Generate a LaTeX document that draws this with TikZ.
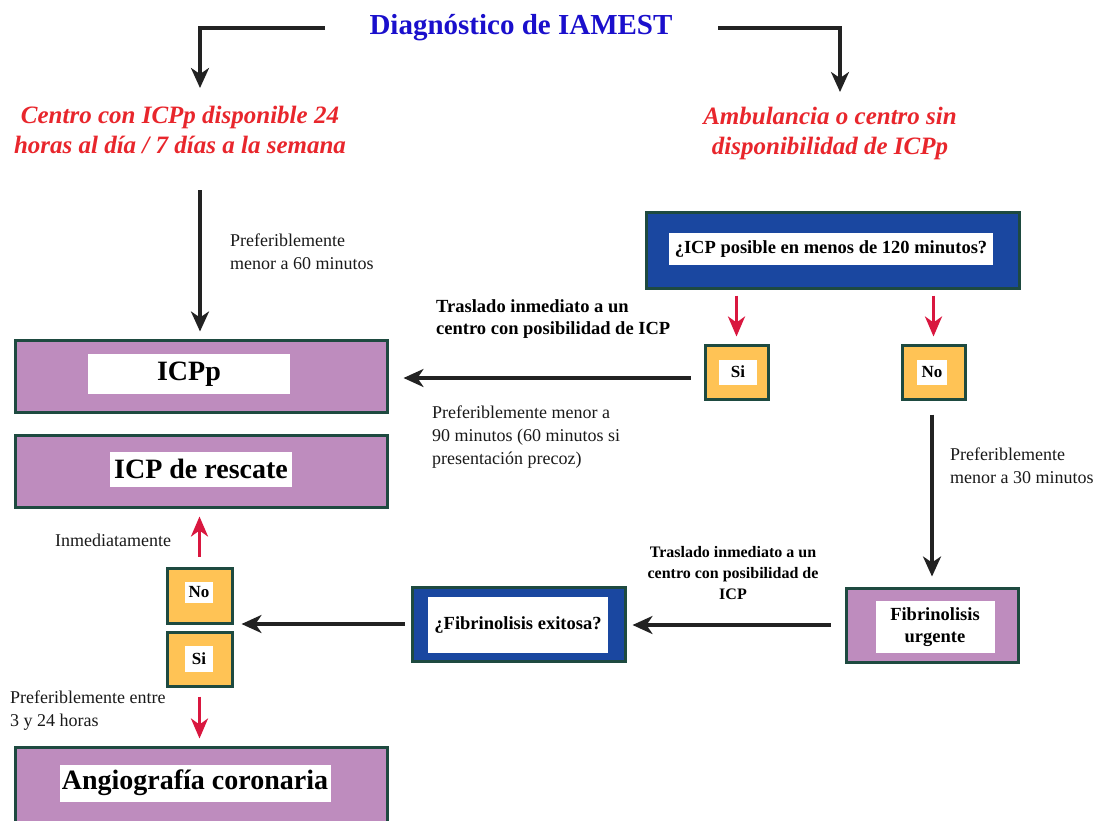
\documentclass[tikz,border=0pt]{standalone}
\usepackage{fontspec}
\setmainfont{Liberation Serif}
\usetikzlibrary{arrows.meta}
\definecolor{boxpurple}{RGB}{190,140,190}
\definecolor{boxblue}{RGB}{26,71,160}
\definecolor{boxorange}{RGB}{255,195,85}
\definecolor{boxborder}{RGB}{30,74,64}
\definecolor{titleblue}{RGB}{26,15,204}
\definecolor{redtext}{RGB}{232,38,44}
\definecolor{redarrow}{RGB}{217,23,63}
\definecolor{arrowblack}{RGB}{34,34,34}
\begin{document}
\begin{tikzpicture}[x=1pt,y=-1pt,
  frame/.style={draw=boxborder, line width=3pt, inner sep=0pt},
  purplebox/.style={frame, fill=boxpurple},
  bluebox/.style={frame, fill=boxblue},
  orangebox/.style={frame, fill=boxorange, minimum width=63pt, minimum height=54pt},
  whitelabel/.style={fill=white, inner sep=0pt, align=center, text=black},
  bigbold/.style={font=\bfseries\fontsize{28}{30}\selectfont},
  midbold/.style={font=\bfseries\fontsize{18.5}{22}\selectfont},
  smallbold/.style={font=\bfseries\fontsize{17}{20}\selectfont},
  note/.style={font=\fontsize{18}{23}\selectfont, align=left, inner sep=0pt, anchor=west, text=black!90},
  boldnote/.style={font=\bfseries\fontsize{18.5}{22}\selectfont, align=left, inner sep=0pt, anchor=west},
  redhead/.style={font=\bfseries\itshape\fontsize{25}{30}\selectfont, text=redtext, align=center, inner sep=0pt},
  arr/.style={draw=arrowblack, line width=3.2pt, -{Stealth[length=20pt,width=18pt,inset=6pt]}},
  redarr/.style={draw=redarrow, line width=3.2pt, -{Stealth[length=20pt,width=17pt,inset=6pt]}}
]
\useasboundingbox (0,0) rectangle (1107,820);

% title
\node[font=\bfseries\fontsize{29}{32}\selectfont, text=titleblue, inner sep=0pt] (title) at (521,28) {Diagnóstico de IAMEST};
\coordinate (tl) at (325,28);
\coordinate (tlend) at (200,88);
\coordinate (tr) at (718,28);
\coordinate (trend) at (840,92);
\draw[arr] (tl) -| (tlend);
\draw[arr] (tr) -| (trend);

% red headings
\node[redhead] (left) at (180,130) {Centro con ICPp disponible 24\\horas al día / 7 días a la semana};
\node[redhead] (right) at (830,133) {Ambulancia o centro sin\\disponibilidad de ICPp};

% left column boxes
\node[purplebox, minimum width=372pt, minimum height=72pt] (icpp) at (201,376) {};
\node[whitelabel, bigbold, minimum width=202pt, minimum height=40pt] (icppt) at (189,374) {ICPp};
\node[purplebox, minimum width=372pt, minimum height=72pt] (resc) at (201,471) {};
\node[whitelabel, bigbold, minimum width=182pt, minimum height=35pt] (resct) at (201,469) {ICP de rescate};
\node[purplebox, minimum width=372pt, minimum height=90pt] (angio) at (201,792) {};
\node[whitelabel, bigbold, minimum width=271pt, minimum height=37pt] (angiot) at (195,783) {Angiografía coronaria};

\node[orangebox, minimum width=65pt, minimum height=55pt] (lno) at (199.5,595.5) {};
\node[whitelabel, smallbold, minimum width=28pt, minimum height=21pt] (lnot) at (199,592) {No};
\node[orangebox, minimum width=65pt, minimum height=54pt] (lsi) at (199.5,659) {};
\node[whitelabel, smallbold, minimum width=28pt, minimum height=26pt] (lsit) at (199,659) {Si};

% right column
\node[bluebox, minimum width=373pt, minimum height=76pt] (icpq) at (832.5,250) {};
\node[whitelabel, midbold, minimum width=324pt, minimum height=32pt] (icpqt) at (831,249) {¿ICP posible en menos de 120 minutos?};
\node[orangebox] (rsi) at (736.5,372) {};
\node[whitelabel, smallbold, minimum width=38pt, minimum height=25pt] (rsit) at (738,372) {Si};
\node[orangebox] (rno) at (933.5,372) {};
\node[whitelabel, smallbold, minimum width=30pt, minimum height=25pt] (rnot) at (932,372) {No};

\node[purplebox, minimum width=172pt, minimum height=74pt] (fibr) at (932,625) {};
\node[whitelabel, midbold, minimum width=119pt, minimum height=52pt] (fibrt) at (935,627) {Fibrinolisis\\urgente};
\node[bluebox, minimum width=213pt, minimum height=74pt] (fibq) at (518.5,624) {};
\node[whitelabel, midbold, minimum width=180pt, minimum height=56pt] (fibqt) at (518,625) {¿Fibrinolisis exitosa?};

% connectors
\coordinate (lsrc) at (200,190);
\draw[arr, shorten >=7pt] (lsrc) -- (lsrc |- icpp.north);
\draw[redarr, shorten <=6pt, shorten >=7pt] (icpq.south -| rsi) -- (rsi.north);
\draw[redarr, shorten <=6pt, shorten >=7pt] (icpq.south -| rno) -- (rno.north);
\draw[arr, shorten <=13pt, shorten >=15pt] (rsi.west |- 0,378) -- (icpp.east |- 0,378);
\draw[arr, shorten <=14pt, shorten >=10pt] (rno.south -| 932,0) -- (fibr.north -| 932,0);
\draw[arr, shorten <=14pt, shorten >=6pt] (fibr.west) -- (fibq.east |- fibr.west);
\draw[arr, shorten <=6pt, shorten >=8pt] (fibq.west |- 0,624) -- (lno.east |- 0,624);
\draw[redarr, shorten <=10pt, shorten >=8pt] (lno.north) -- (resc.south -| lno.north);
\draw[redarr, shorten <=9pt, shorten >=7pt] (lsi.south) -- (angio.north -| lsi.south);

% notes
\node[note] (n60) at (230,251.5) {Preferiblemente\\menor a 60 minutos};
\node[boldnote] (tras1) at (436,319) {Traslado inmediato a un\\centro con posibilidad de ICP};
\node[note] (n90) at (432,437.5) {Preferiblemente menor a\\90 minutos (60 minutos si\\presentación precoz)};
\node[note] (n30) at (950,465.5) {Preferiblemente\\menor a 30 minutos};
\node[font=\bfseries\fontsize{16}{21}\selectfont, align=center, inner sep=0pt] (tras2) at (733,573) {Traslado inmediato a un\\centro con posibilidad de\\ICP};
\node[note] (inm) at (55,540) {Inmediatamente};
\node[note] (n324) at (10,711) {Preferiblemente entre\\3 y 24 horas};
\end{tikzpicture}
\end{document}
